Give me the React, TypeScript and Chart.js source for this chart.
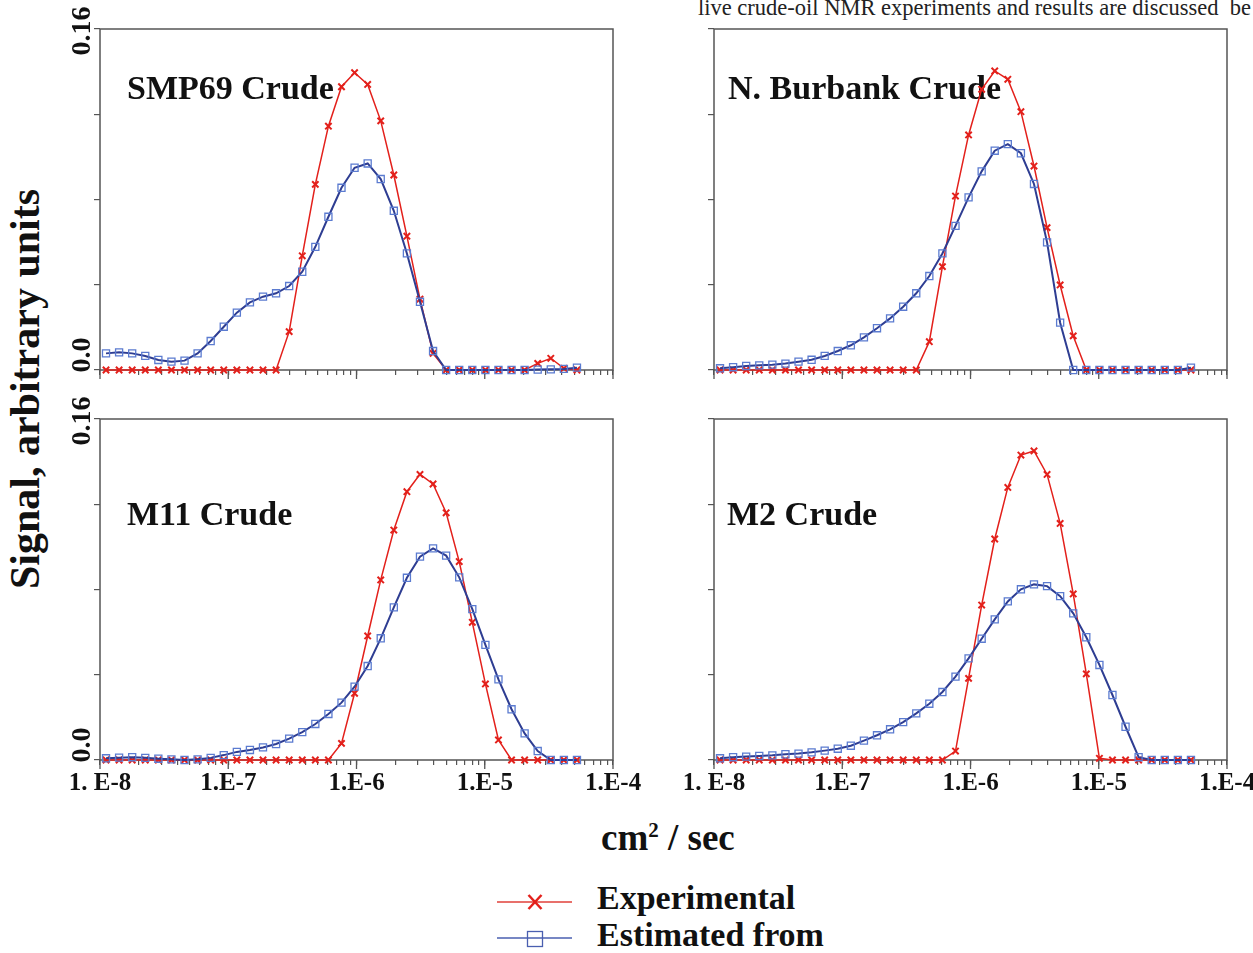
import React, { useEffect, useRef } from "react";
import { Chart, registerables } from "chart.js";

Chart.register(...registerables);

// ---------- data ----------
// diffusion coefficients (cm^2/sec) of the sampled points, shared by all panels
const X_VALUES = [
  1.114e-8, 1.409e-8, 1.782e-8, 2.254e-8, 2.851e-8, 3.606e-8, 4.56e-8, 5.768e-8,
  7.295e-8, 9.226e-8, 1.167e-7, 1.476e-7, 1.866e-7, 2.36e-7, 2.985e-7, 3.776e-7,
  4.775e-7, 6.039e-7, 7.638e-7, 9.661e-7, 1.222e-6, 1.545e-6, 1.954e-6, 2.472e-6,
  3.126e-6, 3.954e-6, 5.0e-6, 6.324e-6, 7.998e-6, 1.012e-5, 1.279e-5, 1.618e-5,
  2.046e-5, 2.588e-5, 3.273e-5, 4.14e-5, 5.236e-5,
];

const SMP69_EXPERIMENTAL = [
  0, 0, 0, 0, 0, 0, 0, 0, 0, 0, 0, 0, 0, 0, 0.018, 0.0536, 0.0871, 0.1144, 0.1329,
  0.1395, 0.134, 0.1169, 0.0915, 0.0628, 0.0333, 0.0078, 0, 0, 0, 0, 0, 0, 0,
  0.0031, 0.0055, 0.0008, 0,
];
const SMP69_ESTIMATED = [
  0.0078, 0.0083, 0.0078, 0.0066, 0.0047, 0.0039, 0.0044, 0.0078, 0.0136, 0.0203,
  0.0269, 0.0317, 0.0344, 0.036, 0.0394, 0.0461, 0.0578, 0.0719, 0.0855, 0.0949,
  0.0969, 0.0896, 0.0747, 0.0547, 0.032, 0.0089, 0, 0, 0, 0, 0, 0, 0, 0.0002,
  0.0003, 0.0005, 0.0011,
];

const BURBANK_EXPERIMENTAL = [
  0, 0, 0, 0, 0, 0, 0, 0, 0, 0, 0, 0, 0, 0, 0, 0, 0.0133, 0.0485, 0.0816, 0.1103,
  0.1317, 0.1403, 0.1364, 0.1212, 0.0957, 0.0668, 0.0399, 0.016, 0, 0, 0, 0, 0, 0,
  0, 0, 0,
];
const BURBANK_ESTIMATED = [
  0.0008, 0.0013, 0.0019, 0.0022, 0.0025, 0.003, 0.0039, 0.0048, 0.0066, 0.0089,
  0.0116, 0.0153, 0.0196, 0.0242, 0.0297, 0.036, 0.0441, 0.0547, 0.0676, 0.081,
  0.0932, 0.1029, 0.106, 0.1017, 0.0873, 0.0599, 0.0222, 0, 0, 0, 0, 0, 0, 0, 0, 0,
  0.0011,
];

const M11_EXPERIMENTAL = [
  0, 0, 0, 0, 0, 0, 0, 0, 0, 0, 0, 0, 0, 0, 0, 0, 0, 0, 0.0078, 0.0313, 0.0582,
  0.0845, 0.1079, 0.1259, 0.134, 0.1295, 0.116, 0.0931, 0.0646, 0.0357, 0.0094, 0,
  0, 0, 0, 0, 0,
];
const M11_ESTIMATED = [
  0.0008, 0.0011, 0.0013, 0.001, 0.0006, 0.0003, 0, 0.0003, 0.001, 0.0023, 0.0038,
  0.0047, 0.0059, 0.0075, 0.01, 0.0131, 0.0169, 0.0216, 0.0269, 0.0344, 0.0441,
  0.0571, 0.0716, 0.0855, 0.0954, 0.0993, 0.0959, 0.0857, 0.0708, 0.054, 0.0378,
  0.0238, 0.0125, 0.0042, 0, 0, 0,
];

const M2_EXPERIMENTAL = [
  0, 0, 0, 0, 0, 0, 0, 0, 0, 0, 0, 0, 0, 0, 0, 0, 0, 0, 0.0042, 0.0383, 0.0727,
  0.1037, 0.1279, 0.1431, 0.145, 0.134, 0.111, 0.0779, 0.0404, 0.0008, 0, 0, 0, 0,
  0, 0, 0,
];
const M2_ESTIMATED = [
  0.0008, 0.0013, 0.0016, 0.0019, 0.0022, 0.0027, 0.003, 0.0036, 0.0044, 0.0053,
  0.0067, 0.0091, 0.0116, 0.0144, 0.0178, 0.0219, 0.0264, 0.0319, 0.0391, 0.0477,
  0.0569, 0.066, 0.0744, 0.0801, 0.0824, 0.0816, 0.0769, 0.0688, 0.0576, 0.0446,
  0.0305, 0.0156, 0.0013, 0, 0, 0, 0,
];

// axis ticks
const X_MAJOR_TICKS = [1e-8, 1e-7, 1e-6, 1e-5, 1e-4];
const X_TICK_LABELS = ["1. E-8", "1.E-7", "1.E-6", "1.E-5", "1.E-4"];
const X_MINOR_MANTISSAS = [2, 3, 4, 5, 6, 7, 8, 9];
const Y_MIN = 0;
const Y_MAX = 0.16;
const Y_STEP = 0.04;
const Y_MIN_LABEL = "0.0";
const Y_MAX_LABEL = "0.16";

const SERIES_NAMES = ["Experimental", "Estimated from"];
const Y_TITLE = "Signal, arbitrary units";
const TOP_TEXT = "live crude-oil NMR experiments and results are discussed  be";

// ---------- style ----------
const FONT = '"Liberation Serif", "Times New Roman", Times, serif';
const FRAME = "#555555";
const RED = "#e3201b";
const BLUE_LINE = "#2e3d92";
const BLUE_MARK = "#5b7bd0";

const AREA_W = 513;
const AREA_H = 341;
const PAD_L = 45;
const PAD_T = 30;
const PAD_R = 35;
const PAD_B = 45;

const X_TICK_VALUES: number[] = (() => {
  const out: number[] = [];
  X_MAJOR_TICKS.forEach((d, i) => {
    out.push(d);
    if (i < X_MAJOR_TICKS.length - 1) X_MINOR_MANTISSAS.forEach((m) => out.push(m * d));
  });
  return out;
})();

const PANELS = [
  { title: "SMP69 Crude", exp: SMP69_EXPERIMENTAL, est: SMP69_ESTIMATED, left: 100, top: 29, tdx: 27, tdy: 70, xLabels: false, yLabels: true },
  { title: "N. Burbank Crude", exp: BURBANK_EXPERIMENTAL, est: BURBANK_ESTIMATED, left: 714, top: 29, tdx: 14, tdy: 70, xLabels: false, yLabels: false },
  { title: "M11 Crude", exp: M11_EXPERIMENTAL, est: M11_ESTIMATED, left: 100, top: 419, tdx: 27, tdy: 106, xLabels: true, yLabels: true },
  { title: "M2 Crude", exp: M2_EXPERIMENTAL, est: M2_ESTIMATED, left: 714, top: 419, tdx: 13, tdy: 106, xLabels: true, yLabels: false },
];

const decorPlugin = {
  id: "decor",
  beforeDatasetsDraw(chart: any, _args: any, opts: any) {
    const { ctx, chartArea: a } = chart;
    const xs = chart.scales.x;
    const ys = chart.scales.y;
    ctx.save();
    // frame
    ctx.strokeStyle = FRAME;
    ctx.lineWidth = 1.5;
    ctx.strokeRect(a.left, a.top, a.right - a.left, a.bottom - a.top);
    // longer decade ticks
    ctx.lineWidth = 1.3;
    ctx.beginPath();
    for (const v of X_MAJOR_TICKS) {
      const px = xs.getPixelForValue(v);
      ctx.moveTo(px, a.bottom);
      ctx.lineTo(px, a.bottom + 9);
    }
    ctx.stroke();
    ctx.fillStyle = "#111";
    // rotated y labels
    if (opts.yLabels) {
      ctx.font = `bold 28px ${FONT}`;
      ctx.textAlign = "center";
      ctx.textBaseline = "alphabetic";
      const ylabels: [number, string, number][] = [
        [Y_MAX, Y_MAX_LABEL, 2],
        [Y_MIN, Y_MIN_LABEL, -15],
      ];
      for (const [v, lab, off] of ylabels) {
        ctx.save();
        ctx.translate(a.left - 10, ys.getPixelForValue(v) + off);
        ctx.rotate(-Math.PI / 2);
        ctx.fillText(lab, 0, 0);
        ctx.restore();
      }
    }
    // panel title
    ctx.font = `bold 34px ${FONT}`;
    ctx.textAlign = "left";
    ctx.textBaseline = "alphabetic";
    ctx.fillText(opts.title, a.left + opts.dx, a.top + opts.dy);
    ctx.restore();
  },
};

function labelFor(v: number): string {
  const idx = X_MAJOR_TICKS.findIndex((d) => Math.abs(Math.log10(d) - Math.log10(v)) < 1e-6);
  return idx >= 0 ? X_TICK_LABELS[idx] : "";
}

function Panel({ p }: { p: (typeof PANELS)[number] }) {
  const ref = useRef<HTMLCanvasElement | null>(null);
  useEffect(() => {
    if (!ref.current) return;
    const chart = new Chart(ref.current, {
      type: "line",
      data: {
        datasets: [
          {
            label: SERIES_NAMES[0],
            data: X_VALUES.map((x, i) => ({ x, y: p.exp[i] })),
            borderColor: RED,
            borderWidth: 1.5,
            pointStyle: "crossRot",
            pointRadius: 4.5,
            pointBorderColor: RED,
            pointBackgroundColor: RED,
            pointBorderWidth: 2,
            tension: 0,
            clip: false,
            order: 1,
          } as any,
          {
            label: SERIES_NAMES[1],
            data: X_VALUES.map((x, i) => ({ x, y: p.est[i] })),
            borderColor: BLUE_LINE,
            borderWidth: 2,
            pointStyle: "rect",
            pointRadius: 5,
            pointBorderColor: BLUE_MARK,
            pointBackgroundColor: "rgba(255,255,255,0)",
            pointBorderWidth: 1.3,
            tension: 0,
            clip: false,
            order: 0,
          } as any,
        ],
      },
      options: {
        responsive: false,
        animation: false,
        events: [],
        layout: { padding: { left: 0, top: PAD_T, right: PAD_R, bottom: 0 }, autoPadding: false } as any,
        plugins: {
          legend: { display: false },
          tooltip: { enabled: false },
          decor: { title: p.title, dx: p.tdx, dy: p.tdy, yLabels: p.yLabels },
        } as any,
        scales: {
          x: {
            type: "logarithmic",
            min: X_MAJOR_TICKS[0],
            max: X_MAJOR_TICKS[X_MAJOR_TICKS.length - 1],
            afterBuildTicks: (s: any) => {
              s.ticks = X_TICK_VALUES.map((v) => ({ value: v }));
            },
            afterFit: (s: any) => {
              s.height = PAD_B;
            },
            border: { display: false },
            grid: { drawOnChartArea: false, drawTicks: true, tickLength: 5, tickColor: FRAME, lineWidth: 1.2 },
            ticks: {
              display: p.xLabels,
              autoSkip: false,
              maxRotation: 0,
              minRotation: 0,
              padding: 4,
              color: "#111",
              font: { family: FONT, size: 25, weight: "bold" },
              callback: (v: any) => labelFor(Number(v)),
            },
          } as any,
          y: {
            type: "linear",
            min: Y_MIN,
            max: Y_MAX,
            afterFit: (s: any) => {
              s.width = PAD_L;
            },
            border: { display: false },
            grid: { drawOnChartArea: false, drawTicks: true, tickLength: 6, tickColor: FRAME, lineWidth: 1.2 },
            ticks: { display: false, stepSize: Y_STEP },
          } as any,
        },
      },
      plugins: [decorPlugin as any],
    });
    return () => chart.destroy();
  }, [p]);
  const w = PAD_L + AREA_W + PAD_R;
  const h = PAD_T + AREA_H + PAD_B;
  return (
    <canvas
      ref={ref}
      width={w}
      height={h}
      style={{ position: "absolute", left: p.left - PAD_L, top: p.top - PAD_T, width: w, height: h }}
    />
  );
}

export default function App() {
  return (
    <div
      style={{
        position: "absolute",
        left: 0,
        top: 0,
        width: 1253,
        height: 953,
        overflow: "hidden",
        background: "#fff",
        fontFamily: FONT,
        color: "#111",
      }}
    >
      <div
        style={{
          position: "absolute",
          left: 698,
          top: -3,
          fontSize: 22.5,
          lineHeight: 1,
          whiteSpace: "pre",
          color: "#222",
        }}
      >
        {TOP_TEXT}
      </div>
      {PANELS.map((p) => (
        <Panel key={p.title} p={p} />
      ))}
      <div
        style={{
          position: "absolute",
          left: 25 - 250,
          top: 389 - 21,
          width: 500,
          textAlign: "center",
          fontSize: 42,
          fontWeight: "bold",
          lineHeight: 1,
          whiteSpace: "nowrap",
          transform: "rotate(-90deg)",
          transformOrigin: "50% 50%",
        }}
      >
        {Y_TITLE}
      </div>
      <div
        style={{
          position: "absolute",
          left: 601,
          top: 819,
          fontSize: 37,
          fontWeight: "bold",
          lineHeight: 1,
          whiteSpace: "nowrap",
        }}
      >
        cm
        <span style={{ fontSize: 21, position: "relative", top: -13 }}>2</span>
        {" / sec"}
      </div>
      <svg
        width={90}
        height={62}
        style={{ position: "absolute", left: 490, top: 890 }}
      >
        <line x1={7} y1={12} x2={82} y2={12} stroke="#e0403a" strokeWidth={1.3} />
        <line x1={38.5} y1={5} x2={51.5} y2={19} stroke={RED} strokeWidth={2.5} />
        <line x1={51.5} y1={5} x2={38.5} y2={19} stroke={RED} strokeWidth={2.5} />
        <line x1={7} y1={48} x2={82} y2={48} stroke="#4a5fb0" strokeWidth={1.3} />
        <rect x={37.5} y={41.5} width={15} height={15} fill="none" stroke="#4a5fb0" strokeWidth={1.3} />
      </svg>
      <div
        style={{
          position: "absolute",
          left: 597,
          top: 881,
          fontSize: 34,
          fontWeight: "bold",
          lineHeight: 1,
          whiteSpace: "nowrap",
        }}
      >
        {SERIES_NAMES[0]}
      </div>
      <div
        style={{
          position: "absolute",
          left: 597,
          top: 918,
          fontSize: 34,
          fontWeight: "bold",
          lineHeight: 1,
          whiteSpace: "nowrap",
        }}
      >
        {SERIES_NAMES[1]}
      </div>
    </div>
  );
}
